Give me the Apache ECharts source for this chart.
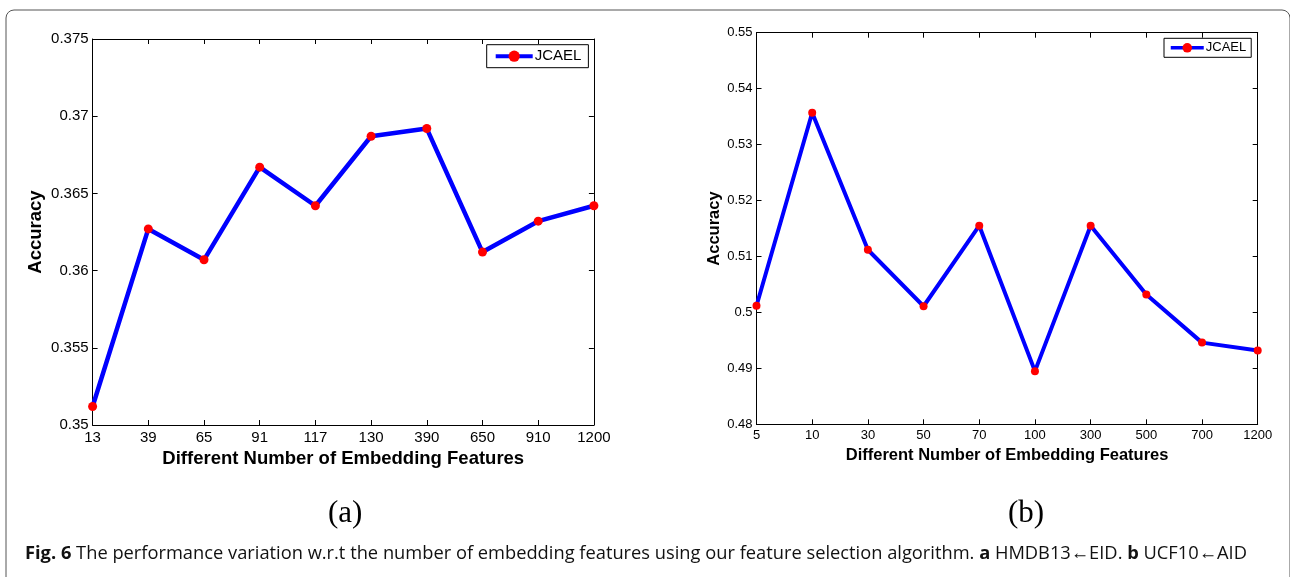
<!DOCTYPE html>
<html>
<head>
<meta charset="utf-8">
<script src="https://cdn.jsdelivr.net/npm/echarts@6/dist/echarts.min.js"></script>
<style>
  html, body { margin: 0; padding: 0; background: #fff; }
  #chart { width: 1290px; height: 577px; }
</style>
</head>
<body>
<div id="chart"></div>
<script>
  // (a) HMDB13 <- EID
  const catsA = ['13', '39', '65', '91', '117', '130', '390', '650', '910', '1200']
  const accA = [0.3512, 0.3627, 0.3607, 0.3667, 0.3642, 0.3687, 0.3692, 0.3612, 0.3632, 0.3642]
  // (b) UCF10 <- AID
  const catsB = ['5', '10', '30', '50', '70', '100', '300', '500', '700', '1200']
  const accB = [0.5012, 0.5357, 0.5112, 0.5011, 0.5155, 0.4895, 0.5155, 0.5032, 0.4946, 0.4932]

  const seriesName = 'JCAEL'
  const xTitle = 'Different Number of Embedding Features'
  const yTitle = 'Accuracy'

  const fmt = v => String(+v.toFixed(3))
  const font = 'Liberation Sans, Arial, sans-serif'

  function xAxes(grid, cats, size, nameSize, nameGap) {
    const base = {
      type: 'category',
      gridIndex: grid,
      data: cats,
      boundaryGap: false,
      axisLine: { lineStyle: { color: '#000', width: 1 } },
      axisTick: { inside: true, length: 5, lineStyle: { color: '#000' } },
      splitLine: { show: false }
    }
    return [
      Object.assign({}, base, {
        position: 'bottom',
        axisLabel: { color: '#000', fontFamily: font, fontSize: size, margin: 5 },
        name: xTitle,
        nameLocation: 'middle',
        nameGap: nameGap,
        nameTextStyle: { color: '#000', fontFamily: font, fontWeight: 'bold', fontSize: nameSize }
      }),
      Object.assign({}, base, { position: 'top', axisLabel: { show: false } })
    ]
  }

  function yAxes(grid, min, max, step, size, nameSize, nameGap) {
    const base = {
      type: 'value',
      gridIndex: grid,
      min: min,
      max: max,
      interval: step,
      axisLine: { show: true, lineStyle: { color: '#000', width: 1 } },
      axisTick: { show: true, inside: true, length: 5, lineStyle: { color: '#000' } },
      splitLine: { show: false }
    }
    return [
      Object.assign({}, base, {
        position: 'left',
        axisLabel: { color: '#000', fontFamily: font, fontSize: size, margin: 4, formatter: fmt },
        name: yTitle,
        nameLocation: 'middle',
        nameGap: nameGap,
        nameTextStyle: { color: '#000', fontFamily: font, fontWeight: 'bold', fontSize: nameSize }
      }),
      Object.assign({}, base, { position: 'right', axisLabel: { show: false } })
    ]
  }

  const chart = echarts.init(document.getElementById('chart'))
  chart.setOption({
    animation: false,
    backgroundColor: '#fff',
    grid: [
      { left: 92.6, right: 696.1, top: 39, bottom: 152 },
      { left: 756.5, right: 32.3, top: 32.7, bottom: 152.7 }
    ],
    xAxis: xAxes(0, catsA, 15, 18.5, 22).concat(xAxes(1, catsB, 13, 16.5, 19)),
    yAxis: yAxes(0, 0.35, 0.375, 0.005, 15, 18.5, 47).concat(yAxes(1, 0.48, 0.55, 0.01, 13, 16.5, 34)),
    legend: [
      {
        data: [seriesName],
        left: 486.7, top: 44.7,
        padding: [4, 7],
        itemWidth: 37, itemHeight: 14, itemGap: 5,
        lineStyle: { width: 4 },
        borderColor: '#000', borderWidth: 1,
        textStyle: { color: '#000', fontFamily: font, fontSize: 15, padding: [0, 0, 0, -3] }
      },
      {
        data: [seriesName],
        left: 1164, top: 38.3,
        padding: [3, 5],
        itemWidth: 33, itemHeight: 12, itemGap: 5,
        lineStyle: { width: 3.5 },
        borderColor: '#000', borderWidth: 1,
        textStyle: { color: '#000', fontFamily: font, fontSize: 13, padding: [0, 0, 0, -3] }
      }
    ],
    series: [
      {
        name: seriesName, type: 'line', xAxisIndex: 0, yAxisIndex: 0, data: accA,
        symbol: 'circle', symbolSize: 9,
        lineStyle: { color: '#0000ff', width: 4.5 },
        itemStyle: { color: '#ff0000' }
      },
      {
        name: seriesName, type: 'line', xAxisIndex: 2, yAxisIndex: 2, data: accB,
        symbol: 'circle', symbolSize: 8,
        lineStyle: { color: '#0000ff', width: 4 },
        itemStyle: { color: '#ff0000' }
      }
    ],
    graphic: [
      {
        type: 'rect', silent: true,
        shape: { x: 6, y: 10, width: 1284, height: 640, r: 8 },
        style: { fill: 'none', stroke: '#555', lineWidth: 1 }
      },
      {
        type: 'text', left: 328, top: 498,
        style: { text: '(a)', font: '31px "Liberation Serif", serif', fill: '#000' }
      },
      {
        type: 'text', left: 1008, top: 498,
        style: { text: '(b)', font: '31px "Liberation Serif", serif', fill: '#000' }
      },
      {
        type: 'text', left: 25, top: 545,
        style: {
          text: '{b|Fig. 6} The performance variation w.r.t the number of embedding features using our feature selection algorithm. {b|a} HMDB13←EID. {b|b} UCF10←AID',
          font: '18.3px "Open Sans", sans-serif',
          fill: '#111',
          rich: {
            b: { font: 'bold 18.3px "Open Sans", sans-serif', fill: '#111' }
          }
        }
      }
    ]
  })
</script>
</body>
</html>
